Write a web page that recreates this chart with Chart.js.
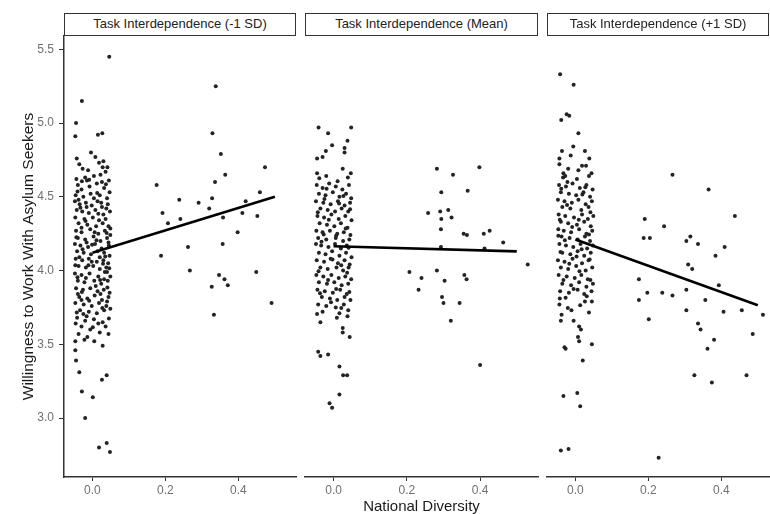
<!DOCTYPE html>
<html>
<head>
<meta charset="utf-8">
<script src="https://cdn.jsdelivr.net/npm/chart.js@4"></script>
<style>
  html, body { margin: 0; padding: 0; background: #fff; }
  #wrap { position: relative; width: 770px; height: 514px; overflow: hidden; font-family: "Liberation Sans", Arial, sans-serif; }
  canvas { position: absolute; top: 0; }
  .strip { position: absolute; top: 13px; height: 23px; box-sizing: border-box; border: 1.5px solid #333; background: #fff;
           font-size: 13px; color: #222; text-align: center; line-height: 20px; white-space: nowrap; overflow: hidden; }
</style>
</head>
<body>
<div id="wrap">
  <canvas id="c1" width="300" height="514" style="left:0px"></canvas>
  <canvas id="c2" width="242" height="514" style="left:300px"></canvas>
  <canvas id="c3" width="241" height="514" style="left:542px"></canvas>
  <div class="strip" id="s1" style="left:64px;width:232px"></div>
  <div class="strip" id="s2" style="left:305px;width:233px"></div>
  <div class="strip" id="s3" style="left:547px;width:222px"></div>
</div>
<script>
// titres des panneaux + axes
const panelTitles = ["Task Interdependence (-1 SD)", "Task Interdependence (Mean)", "Task Interdependence (+1 SD)"];
const xTicks = [0.0, 0.2, 0.4];
const yTicks = [3.0, 3.5, 4.0, 4.5, 5.0, 5.5];
const xRange = [-0.078, 0.558];
const yRange = [2.6, 5.59];

// droites de regression (diversite, valeur predite)
const fitLow = [[0, 4.12], [0.5, 4.50]];
const fitMean = [[0, 4.165], [0.5, 4.13]];
const fitHigh = [[0, 4.21], [0.5, 3.765]];

// points [national diversity, willingness] - panneau -1 SD
const pointsLow = [
  [0.046,5.45],[-0.029,5.15],[-0.045,5.00],[-0.047,4.91],[0.015,4.92],[0.027,4.93],[-0.004,4.80],
  [-0.043,4.76],[0.008,4.77],[0.03,4.74],[-0.027,4.69],[0.041,4.70],[-0.015,4.61],[0.026,4.60],
  [-0.036,4.72],[-0.012,4.68],[0.018,4.73],[0.028,4.70],[0.036,4.67],[-0.044,4.62],[-0.02,4.63],[0.004,4.64],
  [0.022,4.65],[0.045,4.61],[-0.04,4.58],[-0.03,4.55],[-0.008,4.57],[0.012,4.59],[0.032,4.56],[0.047,4.53],
  [-0.046,4.51],[-0.025,4.50],[-0.005,4.52],[0.02,4.51],[0.04,4.49],[-0.038,4.48],[0.004,4.49],[0.024,4.46],
  [-0.048,4.47],[-0.035,4.45],[-0.018,4.46],[-0.002,4.44],[0.014,4.47],[0.026,4.43],[0.042,4.45],[-0.016,4.43],
  [0.038,4.42],[-0.043,4.41],[-0.028,4.40],[-0.01,4.39],[0.008,4.41],[0.03,4.38],[0.048,4.40],[-0.047,4.36],
  [-0.022,4.35],[0.001,4.36],[0.018,4.34],[0.036,4.35],[-0.038,4.32],[-0.014,4.31],[0.01,4.30],[0.028,4.32],
  [0.044,4.30],[-0.03,4.29],[0.006,4.26],[-0.045,4.27],[-0.03,4.26],[-0.006,4.28],[0.016,4.25],[0.034,4.27],
  [0.049,4.24],[-0.04,4.22],[-0.02,4.21],[0.003,4.23],[0.022,4.20],[0.04,4.22],[0.044,4.19],[-0.016,4.19],
  [-0.048,4.18],[-0.033,4.17],[-0.012,4.16],[0.007,4.18],[0.025,4.15],[0.045,4.17],[-0.042,4.13],[-0.024,4.12],
  [-0.004,4.11],[0.014,4.13],[0.032,4.12],[0.047,4.10],[-0.036,4.09],[0.02,4.09],[-0.046,4.08],[-0.028,4.07],
  [-0.01,4.08],[0.012,4.06],[0.03,4.07],[0.043,4.05],[-0.002,4.06],[-0.038,4.03],[-0.018,4.02],[0.002,4.03],
  [0.02,4.01],[0.038,4.02],[0.04,3.99],[-0.048,3.98],[-0.03,3.97],[-0.008,3.98],[0.016,3.96],[0.034,3.99],
  [0.049,3.96],[-0.018,3.95],[0.032,3.94],[-0.04,3.93],[-0.022,3.92],[0.005,3.93],[0.024,3.91],[0.042,3.93],
  [-0.045,3.88],[-0.026,3.87],[-0.006,3.88],[0.014,3.86],[0.031,3.87],[0.047,3.85],[-0.04,3.84],[0.022,3.84],
  [-0.036,3.82],[-0.014,3.81],[0.006,3.83],[0.026,3.80],[0.044,3.82],[-0.03,3.80],[0.04,3.79],[-0.047,3.78],
  [-0.024,3.77],[-0.002,3.76],[0.018,3.78],[0.038,3.76],[-0.034,3.73],[-0.01,3.72],[0.012,3.71],[0.032,3.73],
  [0.049,3.74],[-0.016,3.69],[-0.042,3.68],[-0.02,3.66],[0.004,3.67],[0.028,3.65],[0.016,3.64],[0.036,3.62],
  [-0.046,3.64],[-0.03,3.62],[-0.006,3.60],[0.02,3.58],[0.044,3.57],[-0.038,3.57],[-0.014,3.55],
  [-0.041,4.535],[-0.009,4.615],[0.037,4.585],[-0.033,4.425],[0.016,4.385],[-0.019,4.335],[0.039,4.255],
  [-0.044,4.225],[0.011,4.205],[-0.027,4.145],[0.029,4.045],[-0.011,4.035],[0.046,4.015],[-0.041,3.955],
  [0.009,3.895],[-0.029,3.855],[0.041,3.885],[-0.009,3.795],[0.027,3.745],[-0.043,3.715],[0.001,3.615],
  [-0.025,3.705],[0.045,3.675],[0.013,4.525],[-0.029,4.605],[0.049,4.285],[-0.001,4.175],[0.035,4.095],
  [-0.047,4.035],[0.021,3.935],
  [-0.047,3.52],[-0.022,3.53],[0.005,3.52],[0.028,3.49],[-0.047,3.46],[-0.045,3.39],[-0.036,3.31],
  [-0.029,3.18],[0.001,3.14],[-0.02,3.00],[0.026,3.26],[0.039,3.29],[0.018,2.80],[0.039,2.83],[0.048,2.77],
  [0.176,4.58],[0.192,4.39],[0.207,4.32],[0.238,4.48],[0.241,4.35],[0.262,4.16],[0.188,4.10],[0.291,4.46],
  [0.320,4.42],[0.328,4.49],[0.336,4.60],[0.338,5.25],[0.329,4.93],[0.352,4.79],[0.364,4.65],[0.358,4.36],
  [0.357,4.18],[0.398,4.26],[0.411,4.39],[0.420,4.47],[0.452,4.37],[0.459,4.53],[0.473,4.70],[0.267,4.00],
  [0.327,3.89],[0.333,3.70],[0.347,3.97],[0.362,3.94],[0.371,3.90],[0.449,3.99],[0.491,3.78]
];

// panneau moyenne
const pointsMean = [
  [-0.041,4.97],[-0.015,4.93],[0.048,4.97],[-0.004,4.85],[0.038,4.88],[0.03,4.83],[0.03,4.80],[-0.021,4.81],
  [-0.03,4.77],[-0.045,4.76],[-0.045,4.66],[-0.02,4.64],[0.025,4.69],[0.047,4.66],[0.039,4.63],
  [-0.046,4.58],[-0.03,4.56],[-0.012,4.59],[0.006,4.57],[0.024,4.55],[0.042,4.58],[-0.04,4.52],[-0.022,4.51],
  [-0.002,4.53],[0.016,4.50],[0.034,4.52],[0.048,4.49],[-0.048,4.47],[-0.028,4.46],[-0.008,4.45],[0.012,4.47],
  [0.03,4.44],[0.045,4.46],[-0.036,4.42],[-0.016,4.41],[0.004,4.40],[0.022,4.42],[0.04,4.40],
  [-0.044,4.37],[-0.026,4.36],[-0.006,4.38],[0.014,4.35],[0.032,4.37],[0.049,4.34],[-0.038,4.32],[-0.018,4.31],
  [0.002,4.30],[0.02,4.32],[0.038,4.29],[-0.047,4.27],[-0.03,4.26],[-0.01,4.27],[0.01,4.25],[0.028,4.26],
  [0.046,4.24],[-0.042,4.22],[-0.02,4.21],[0.006,4.22],[0.026,4.20],[0.043,4.21],
  [-0.048,4.18],[-0.034,4.17],[-0.014,4.16],[0.004,4.18],[0.02,4.15],[0.036,4.17],[-0.04,4.12],[-0.022,4.11],
  [-0.004,4.13],[0.016,4.10],[0.034,4.12],[0.049,4.09],[-0.046,4.07],[-0.026,4.06],[-0.008,4.08],[0.012,4.05],
  [0.03,4.07],[0.044,4.04],[-0.036,4.02],[-0.016,4.01],[0.008,4.02],[0.026,4.00],[0.041,4.02],
  [-0.047,3.97],[-0.028,3.96],[-0.006,3.97],[0.014,3.95],[0.032,3.96],[0.048,3.94],[-0.04,3.92],[-0.018,3.91],
  [0.002,3.92],[0.022,3.90],[0.04,3.91],[-0.044,3.87],[-0.024,3.86],[-0.002,3.85],[0.018,3.87],[0.036,3.84],
  [-0.032,3.82],[-0.01,3.81],[0.01,3.80],[0.03,3.82],[0.046,3.80],
  [-0.042,3.77],[-0.02,3.76],[0.006,3.75],[0.028,3.77],[-0.03,3.72],[0.016,3.71],[0.04,3.73],
  [-0.039,4.625],[0.011,4.605],[-0.025,4.485],[0.027,4.505],[-0.043,4.395],[0.045,4.415],[-0.013,4.345],
  [0.007,4.235],[-0.033,4.195],[0.041,4.155],[-0.003,4.075],[0.021,4.035],[-0.041,3.995],[0.037,3.985],
  [-0.015,3.935],[0.007,3.875],[-0.037,3.845],[0.043,3.855],[-0.007,3.785],[0.021,3.745],[-0.045,3.705],
  [0.033,4.285],[-0.027,4.245],[0.015,4.455],[-0.019,4.555],
  [-0.036,3.65],[-0.042,3.45],[-0.036,3.42],[-0.015,3.43],[0.016,3.35],[0.026,3.29],[0.037,3.29],[0.016,3.16],
  [-0.011,3.10],[-0.004,3.07],[0.044,3.55],[0.025,3.61],[0.025,3.58],[0.009,3.68],[0.038,3.69],
  [0.282,4.69],[0.326,4.65],[0.398,4.70],[0.294,4.53],[0.366,4.54],[0.258,4.39],[0.291,4.40],[0.313,4.41],
  [0.294,4.35],[0.322,4.36],[0.293,4.28],[0.355,4.25],[0.364,4.24],[0.41,4.25],[0.426,4.27],[0.463,4.19],
  [0.293,4.16],[0.412,4.15],[0.53,4.04],[0.207,3.99],[0.24,3.95],[0.282,4.00],[0.303,3.93],[0.232,3.87],
  [0.357,3.97],[0.363,3.94],[0.296,3.82],[0.30,3.78],[0.344,3.78],[0.32,3.66],[0.40,3.36]
];

// panneau +1 SD
const pointsHigh = [
  [-0.042,5.33],[-0.005,5.26],[-0.039,5.02],[-0.024,5.06],[-0.017,5.05],[0.008,4.93],[-0.006,4.84],[0.026,4.81],
  [-0.037,4.81],[-0.044,4.76],[-0.013,4.78],[0.038,4.76],[0.029,4.71],[0.008,4.68],[-0.033,4.66],[-0.028,4.64],
  [0.037,4.64],[-0.022,4.60],[-0.044,4.72],[-0.02,4.69],[0.018,4.71],[0.044,4.66],[-0.034,4.63],[0.004,4.62],
  [-0.045,4.58],[-0.026,4.57],[-0.008,4.59],[0.012,4.56],[0.03,4.58],[0.047,4.55],[-0.04,4.53],[-0.018,4.52],
  [0.002,4.51],[0.022,4.53],[0.04,4.50],[-0.048,4.48],[-0.03,4.47],[-0.01,4.46],[0.008,4.48],[0.028,4.45],
  [0.045,4.47],[-0.036,4.43],[-0.014,4.42],[0.016,4.41],[0.036,4.43],
  [-0.046,4.38],[-0.028,4.37],[-0.004,4.36],[0.018,4.38],[0.034,4.35],[0.049,4.37],[-0.04,4.33],[-0.02,4.32],
  [0.004,4.31],[0.024,4.33],[0.042,4.30],[-0.047,4.28],[-0.032,4.27],[-0.012,4.26],[0.01,4.28],[0.03,4.25],
  [0.046,4.27],[-0.038,4.23],[-0.016,4.22],[0.006,4.21],[0.026,4.23],[0.04,4.20],
  [-0.044,4.18],[-0.026,4.17],[-0.006,4.16],[0.014,4.18],[0.032,4.15],[0.048,4.17],[-0.036,4.12],[-0.014,4.11],
  [0.006,4.13],[0.024,4.10],[0.042,4.12],[-0.048,4.07],[-0.03,4.06],[-0.008,4.08],[0.018,4.05],[0.036,4.07],
  [-0.04,4.02],[-0.02,4.01],[0.002,4.03],[0.028,4.00],[0.046,4.02],
  [-0.046,3.97],[-0.024,3.96],[-0.002,3.95],[0.016,3.97],[0.034,3.94],[-0.036,3.91],[-0.012,3.90],[0.01,3.92],
  [0.03,3.89],[0.048,3.91],[-0.042,3.86],[-0.018,3.85],[0.006,3.87],[0.024,3.84],[0.044,3.86],
  [-0.039,4.555],[0.019,4.515],[-0.023,4.445],[0.041,4.395],[-0.043,4.345],[0.009,4.345],[-0.009,4.295],
  [0.037,4.245],[-0.029,4.205],[0.017,4.145],[-0.041,4.125],[0.039,4.075],[-0.017,4.045],[0.011,3.995],
  [-0.033,3.935],[0.041,3.935],[-0.005,3.875],[0.031,3.825],[-0.027,3.815],[0.013,3.765],[-0.021,3.745],
  [0.037,3.715],[0.003,4.095],[-0.047,4.235],[0.027,4.565],
  [-0.033,3.15],[0.005,3.17],[0.013,3.08],[-0.04,2.78],[-0.019,2.79],[0.02,3.39],[-0.03,3.48],[-0.027,3.47],
  [0.007,3.55],[0.01,3.52],[0.045,3.50],[-0.011,3.73],[0.01,3.62],[0.015,3.60],[0.026,3.79],[0.045,3.79],
  [-0.005,3.66],[-0.04,3.66],[-0.038,3.70],[-0.044,3.77],[-0.043,3.81],
  [0.266,4.65],[0.365,4.55],[0.437,4.37],[0.19,4.35],[0.243,4.30],[0.187,4.22],[0.204,4.22],[0.304,4.20],
  [0.315,4.23],[0.336,4.18],[0.409,4.16],[0.384,4.10],[0.309,4.04],[0.32,4.01],[0.393,3.90],[0.174,3.94],
  [0.197,3.85],[0.238,3.85],[0.266,3.83],[0.304,3.87],[0.174,3.80],[0.356,3.80],[0.201,3.67],[0.304,3.73],
  [0.406,3.72],[0.456,3.73],[0.514,3.70],[0.336,3.64],[0.343,3.60],[0.38,3.53],[0.362,3.47],[0.486,3.57],
  [0.326,3.29],[0.374,3.24],[0.469,3.29],[0.228,2.73]
];

document.getElementById("s1").textContent = panelTitles[0];
document.getElementById("s2").textContent = panelTitles[1];
document.getElementById("s3").textContent = panelTitles[2];

const axisColor = "#333";
const tickColor = "#707070";

function makePanel(id, points, fit, firstPanel, showXTitle) {
  const ctx = document.getElementById(id).getContext("2d");
  return new Chart(ctx, {
    type: "scatter",
    data: {
      datasets: [
        {
          data: fit.map(p => ({ x: p[0], y: p[1] })),
          showLine: true,
          borderColor: "#000",
          borderWidth: 2.6,
          pointRadius: 0,
          order: 0
        },
        {
          data: points.map(p => ({ x: p[0], y: p[1] })),
          backgroundColor: "#232323",
          borderWidth: 0,
          pointRadius: 2,
          order: 1
        }
      ]
    },
    options: {
      responsive: false,
      animation: false,
      layout: { padding: { top: 36, left: firstPanel ? 0 : 5, right: 4, bottom: 0 } },
      plugins: { legend: { display: false }, tooltip: { enabled: false } },
      scales: {
        x: {
          type: "linear",
          min: xRange[0],
          max: xRange[1],
          afterBuildTicks: s => { s.ticks = xTicks.map(v => ({ value: v })); },
          afterFit: s => { s.height = 37; },
          ticks: {
            color: tickColor,
            font: { family: "Liberation Sans", size: 12 },
            padding: 2,
            maxRotation: 0,
            callback: v => v.toFixed(1)
          },
          grid: { display: true, drawOnChartArea: false, drawTicks: true, tickLength: 4, color: axisColor, lineWidth: 1 },
          border: { display: true, color: axisColor, width: 1.5 },
          title: {
            display: showXTitle,
            text: "National Diversity",
            color: "#1a1a1a",
            font: { family: "Liberation Sans", size: 15, lineHeight: 1 },
            padding: { top: 0, bottom: 0 }
          }
        },
        y: {
          type: "linear",
          display: firstPanel,
          min: yRange[0],
          max: yRange[1],
          afterBuildTicks: s => { s.ticks = yTicks.map(v => ({ value: v })); },
          afterFit: s => { s.width = firstPanel ? 64 : 0; },
          ticks: {
            color: tickColor,
            font: { family: "Liberation Sans", size: 12 },
            padding: 5,
            callback: v => v.toFixed(1)
          },
          grid: { display: true, drawOnChartArea: false, drawTicks: true, tickLength: 5, color: axisColor, lineWidth: 1 },
          border: { display: true, color: axisColor, width: 1.5 },
          title: {
            display: true,
            text: "Willingness to Work With Asylum Seekers",
            color: "#1a1a1a",
            font: { family: "Liberation Sans", size: 15.5, lineHeight: 1.2 },
            padding: { top: 19, bottom: 0 }
          }
        }
      }
    }
  });
}

makePanel("c1", pointsLow, fitLow, true, false);
makePanel("c2", pointsMean, fitMean, false, true);
makePanel("c3", pointsHigh, fitHigh, false, false);
</script>
</body>
</html>
